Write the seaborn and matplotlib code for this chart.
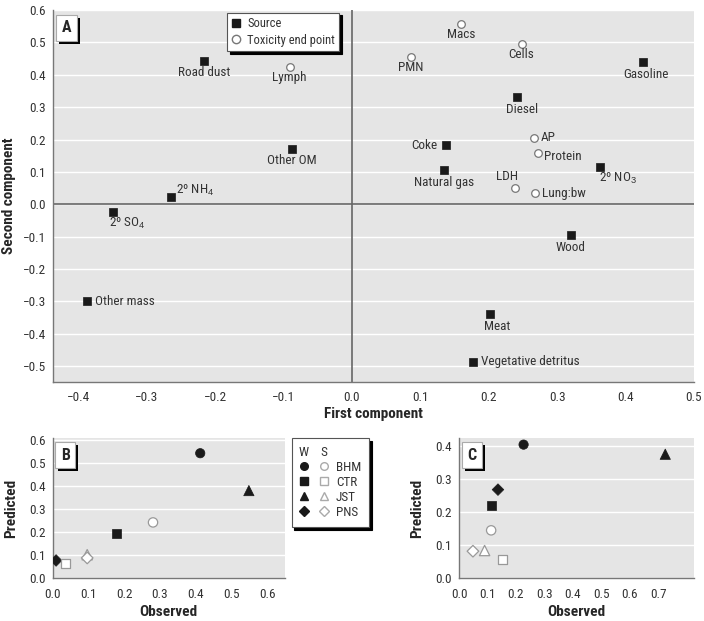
import numpy as np
import pandas as pd
import matplotlib
matplotlib.use("Agg")
import matplotlib.pyplot as plt
import seaborn as sns
from matplotlib.lines import Line2D
from matplotlib.legend_handler import HandlerTuple
import matplotlib.patheffects as pe

# ---- data: panel A (PCA loadings) ----
src_names = ["Road dust", "Other OM", "2º NH$_4$", "2º SO$_4$", "Other mass", "Gasoline",
             "Diesel", "Coke", "Natural gas", "2º NO$_3$", "Wood", "Meat", "Vegetative detritus"]
src_x = [-0.216, -0.088, -0.265, -0.349, -0.388, 0.426, 0.241, 0.137, 0.135, 0.363, 0.320, 0.202, 0.177]
src_y = [0.443, 0.171, 0.022, -0.023, -0.299, 0.439, 0.330, 0.183, 0.106, 0.115, -0.096, -0.340, -0.487]

tox_names = ["Lymph", "Macs", "Cells", "PMN", "AP", "Protein", "LDH", "Lung:bw"]
tox_x = [-0.091, 0.159, 0.248, 0.086, 0.266, 0.272, 0.239, 0.267]
tox_y = [0.423, 0.556, 0.494, 0.454, 0.206, 0.159, 0.051, 0.034]

# ---- data: panels B and C (observed vs predicted) ----
sites = ["BHM", "CTR", "JST", "PNS"]
b_w_obs = [0.413, 0.178, 0.549, 0.010]
b_w_pred = [0.541, 0.193, 0.379, 0.076]
b_s_obs = [0.281, 0.036, 0.097, 0.097]
b_s_pred = [0.241, 0.061, 0.101, 0.087]

c_w_obs = [0.227, 0.113, 0.725, 0.137]
c_w_pred = [0.403, 0.219, 0.374, 0.267]
c_s_obs = [0.113, 0.154, 0.090, 0.049]
c_s_pred = [0.144, 0.055, 0.083, 0.081]

# label placement (offset in points, ha, va)
src_lab = {
    "Road dust": (0, -4, "center", "top"),
    "Other OM": (0, -4, "center", "top"),
    "2º NH$_4$": (4, 5, "left", "center"),
    "2º SO$_4$": (-3, -3, "left", "top"),
    "Other mass": (6, 0, "left", "center"),
    "Gasoline": (2, -4, "center", "top"),
    "Diesel": (4, -4, "center", "top"),
    "Coke": (-6, 0, "right", "center"),
    "Natural gas": (0, -4, "center", "top"),
    "2º NO$_3$": (-1, -3, "left", "top"),
    "Wood": (0, -4, "center", "top"),
    "Meat": (5, -4, "center", "top"),
    "Vegetative detritus": (6, 0, "left", "center"),
}
tox_lab = {
    "Lymph": (0, -3, "center", "top"),
    "Macs": (0, -3, "center", "top"),
    "Cells": (0, -3, "center", "top"),
    "PMN": (0, -3, "center", "top"),
    "AP": (5, 0, "left", "center"),
    "Protein": (4, -3, "left", "center"),
    "LDH": (-6, 8, "center", "center"),
    "Lung:bw": (5, 0, "left", "center"),
}

sns.set_style("white")
plt.rcParams["font.family"] = ["Liberation Sans Narrow", "Roboto Condensed", "Liberation Sans", "DejaVu Sans"]
plt.rcParams["mathtext.fontset"] = "custom"
plt.rcParams["mathtext.rm"] = "Liberation Sans"
plt.rcParams["mathtext.it"] = "Liberation Sans"

BG = "#e5e5e5"
TXT = "#333333"
SPINE = "#777777"
FS = 9.5

fig = plt.figure(figsize=(7.04, 6.21), dpi=100)
axA = fig.add_axes([53 / 704, 1 - 381.7 / 621, 641 / 704, 371.7 / 621])
axB = fig.add_axes([52.5 / 704, 1 - 578 / 621, 232.5 / 704, 140 / 621])
axC = fig.add_axes([459 / 704, 1 - 578 / 621, 235 / 704, 140 / 621])


def style_axis(ax, yticks, xticks):
    ax.set_facecolor(BG)
    for s in ["top", "right"]:
        ax.spines[s].set_visible(False)
    for s in ["left", "bottom"]:
        ax.spines[s].set_color(SPINE)
        ax.spines[s].set_linewidth(1.0)
    ax.set_yticks(yticks)
    ax.set_xticks(xticks)
    for y in yticks:
        ax.axhline(y, color="white", lw=1.0, zorder=0.5)
    ax.tick_params(axis="y", length=0, labelsize=FS, labelcolor=TXT, pad=5)
    ax.tick_params(axis="x", length=3, color=SPINE, labelsize=FS, labelcolor=TXT, pad=4)


def panel_tag(ax, letter, x, y):
    t = ax.text(x, y, letter, transform=ax.transAxes, fontsize=11.5, fontweight="bold",
                ha="left", va="top", zorder=6,
                bbox=dict(boxstyle="square,pad=0.35", fc="white", ec="#aaaaaa", lw=0.8))
    t.get_bbox_patch().set_path_effects([
        pe.SimplePatchShadow(offset=(2.2, -2.2), shadow_rgbFace="black", alpha=1.0),
        pe.Normal()])


def tick_text(v):
    if abs(v) < 1e-9:
        v = 0.0
    return f"{v:.1f}".replace("-", "\u2212")


def fmt_ticks(ax):
    ax.set_xticklabels([tick_text(v) for v in ax.get_xticks()])
    ax.set_yticklabels([tick_text(v) for v in ax.get_yticks()])


# ---- panel A ----
src_df = pd.DataFrame({"name": src_names, "x": src_x, "y": src_y})
tox_df = pd.DataFrame({"name": tox_names, "x": tox_x, "y": tox_y})

style_axis(axA, np.round(np.arange(-0.5, 0.61, 0.1), 1), np.round(np.arange(-0.4, 0.51, 0.1), 1))
axA.axhline(0, color="#666666", lw=1.2, zorder=1)
axA.axvline(0, color="#666666", lw=1.2, zorder=1)
sns.scatterplot(data=src_df, x="x", y="y", ax=axA, marker="s", s=38, color="#1a1a1a",
                edgecolor="#1a1a1a", linewidth=0.5, zorder=3, legend=False)
sns.scatterplot(data=tox_df, x="x", y="y", ax=axA, marker="o", s=30, color="white",
                edgecolor="#777777", linewidth=0.9, zorder=3, legend=False)
for df, lab in [(src_df, src_lab), (tox_df, tox_lab)]:
    for _, r in df.iterrows():
        dx, dy, ha, va = lab[r["name"]]
        axA.annotate(r["name"], (r["x"], r["y"]), xytext=(dx, dy), textcoords="offset points",
                     ha=ha, va=va, fontsize=FS, color=TXT, zorder=4)
axA.set_xlim(-0.437, 0.5)
axA.set_ylim(-0.548, 0.6)
fmt_ticks(axA)
axA.set_xlabel("First component", fontsize=11, fontweight="bold", labelpad=2)
axA.set_ylabel("Second component", fontsize=11, fontweight="bold", labelpad=5)
panel_tag(axA, "A", 0.013, 0.972)

legA = axA.legend(
    handles=[Line2D([], [], marker="s", ls="", color="#1a1a1a", markersize=6),
             Line2D([], [], marker="o", ls="", mfc="white", mec="#777777", markersize=6)],
    labels=["Source", "Toxicity end point"], loc="upper left",
    bbox_to_anchor=(227 / 704, 1 - 12.5 / 621), bbox_transform=fig.transFigure,
    borderaxespad=0, fancybox=False, shadow={"color": "black", "alpha": 1},
    edgecolor="#555555", framealpha=1, fontsize=9, handlelength=0.8,
    handletextpad=0.45, borderpad=0.35, labelspacing=0.3)
legA.get_frame().set_linewidth(0.8)
for t in legA.get_texts():
    t.set_color(TXT)

# ---- panels B and C ----
marker_map = {"BHM": "o", "CTR": "s", "JST": "^", "PNS": "D"}
size_map = {"BHM": 45, "CTR": 42, "JST": 55, "PNS": 35}


def obs_pred(ax, w_obs, w_pred, s_obs, s_pred):
    w_df = pd.DataFrame({"site": sites, "obs": w_obs, "pred": w_pred})
    s_df = pd.DataFrame({"site": sites, "obs": s_obs, "pred": s_pred})
    sns.scatterplot(data=w_df, x="obs", y="pred", style="site", markers=marker_map,
                    size="site", sizes=size_map, color="#1a1a1a", edgecolor="#1a1a1a",
                    linewidth=0.5, ax=ax, zorder=3, legend=False)
    sns.scatterplot(data=s_df, x="obs", y="pred", style="site", markers=marker_map,
                    size="site", sizes=size_map, color="white", edgecolor="#999999",
                    linewidth=0.9, ax=ax, zorder=3, legend=False)
    ax.set_xlabel("Observed", fontsize=11, fontweight="bold", labelpad=3)
    ax.set_ylabel("Predicted", fontsize=11, fontweight="bold", labelpad=8)


style_axis(axB, np.round(np.arange(0, 0.61, 0.1), 1), np.round(np.arange(0, 0.61, 0.1), 1))
obs_pred(axB, b_w_obs, b_w_pred, b_s_obs, b_s_pred)
axB.set_xlim(0, 0.65)
axB.set_ylim(0, 0.607)
fmt_ticks(axB)
panel_tag(axB, "B", 0.035, 0.93)

style_axis(axC, np.round(np.arange(0, 0.41, 0.1), 1), np.round(np.arange(0, 0.71, 0.1), 1))
obs_pred(axC, c_w_obs, c_w_pred, c_s_obs, c_s_pred)
axC.set_xlim(0, 0.826)
axC.set_ylim(0, 0.423)
fmt_ticks(axC)
panel_tag(axC, "C", 0.035, 0.93)

# shared site legend (W = filled, S = open)
handles = []
for s in sites:
    m = marker_map[s]
    ms = 5.5 if m != "D" else 5
    handles.append((Line2D([], [], marker=m, ls="", color="#1a1a1a", markersize=ms),
                    Line2D([], [], marker=m, ls="", mfc="white", mec="#aaaaaa", markersize=ms)))
legBC = fig.legend(handles=handles, labels=sites, handler_map={tuple: HandlerTuple(ndivide=None, pad=0.8)},
                   loc="upper left", bbox_to_anchor=(291.5 / 704, 1 - 438 / 621),
                   borderaxespad=0, fancybox=False, shadow={"color": "black", "alpha": 1},
                   edgecolor="#555555", framealpha=1, fontsize=FS, title="W    S",
                   title_fontsize=FS, alignment="left", handlelength=2.24,
                   handletextpad=0.53, borderpad=0.6, labelspacing=0.15)
legBC.get_frame().set_linewidth(0.8)
for t in legBC.get_texts():
    t.set_color(TXT)
legBC.get_title().set_color(TXT)

fig.savefig("out.png", dpi=100)
